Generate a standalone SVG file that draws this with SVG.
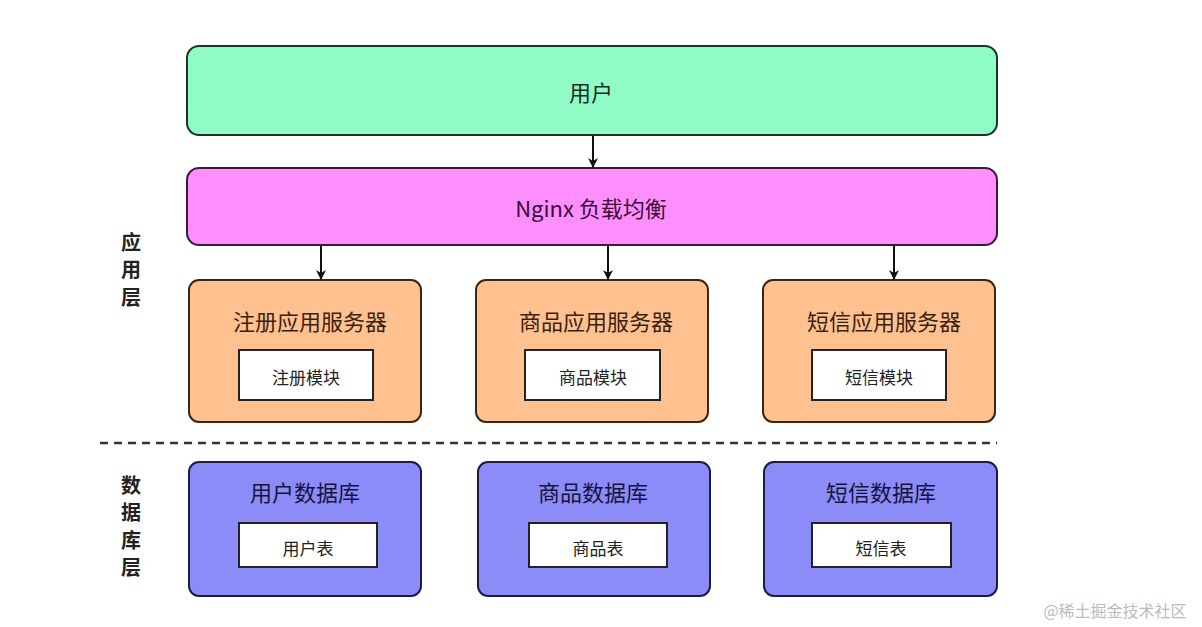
<svg xmlns="http://www.w3.org/2000/svg" width="1202" height="627" viewBox="0 0 1202 627">
<defs>
<marker id="arr" markerWidth="10" markerHeight="10" refX="9" refY="5" orient="auto" markerUnits="userSpaceOnUse">
<path d="M0,0 L10,5 L0,10 L3,5 Z" fill="#111"/>
</marker>
<style>
text{font-family:"Noto Sans CJK SC","Noto Sans",sans-serif;text-anchor:middle;dominant-baseline:central}
.user{fill:#8ffcc6;stroke:#1d3328;stroke-width:2}
.ngx{fill:#ff8ffe;stroke:#3a1a3a;stroke-width:2}
.app{fill:#ffc18f;stroke:#3a2614;stroke-width:2}
.db{fill:#8c8cf9;stroke:#1c1c44;stroke-width:2}
.inner{fill:#fff;stroke:#222;stroke-width:2}
.t20{font-size:22px}
.t16{font-size:17px;fill:#222}
.side{font-size:20px;font-weight:bold;fill:#222}
.conn{stroke:#111;stroke-width:2;fill:none}
</style>
</defs>
<rect width="1202" height="627" fill="#fff"/>

<g id="side-labels">
<text class="side" x="131" y="241">应</text>
<text class="side" x="131" y="268">用</text>
<text class="side" x="131" y="296">层</text>
<text class="side" x="131" y="484">数</text>
<text class="side" x="131" y="511">据</text>
<text class="side" x="131" y="539">库</text>
<text class="side" x="131" y="566">层</text>
</g>

<g id="user">
<rect class="user" x="187" y="46" width="810" height="89" rx="12"/>
<text class="t20" x="591" y="91" fill="#1d2a22">用户</text>
</g>

<g id="nginx">
<rect class="ngx" x="187" y="168" width="810" height="77" rx="12"/>
<text class="t20" x="591" y="207" fill="#3a0c3a">Nginx 负载均衡</text>
</g>

<g id="app-register">
<rect class="app" x="189" y="280" width="232" height="142" rx="10"/>
<text class="t20" x="310" y="320" fill="#3a1f0c">注册应用服务器</text>
<rect class="inner" x="239" y="350" width="134" height="50"/>
<text class="t16" x="306" y="376">注册模块</text>
</g>

<g id="app-goods">
<rect class="app" x="476" y="280" width="232" height="142" rx="10"/>
<text class="t20" x="596" y="320" fill="#3a1f0c">商品应用服务器</text>
<rect class="inner" x="525" y="350" width="135" height="50"/>
<text class="t16" x="593" y="376">商品模块</text>
</g>

<g id="app-sms">
<rect class="app" x="763" y="280" width="232" height="142" rx="10"/>
<text class="t20" x="884" y="320" fill="#3a1f0c">短信应用服务器</text>
<rect class="inner" x="812" y="350" width="134" height="50"/>
<text class="t16" x="879" y="376">短信模块</text>
</g>

<g id="divider">
<line x1="100" y1="443" x2="997" y2="443" stroke="#333" stroke-width="2.5" stroke-dasharray="8,6"/>
</g>

<g id="db-user">
<rect class="db" x="189" y="462" width="232" height="134" rx="10"/>
<text class="t20" x="305" y="491" fill="#14143c">用户数据库</text>
<rect class="inner" x="239" y="523" width="138" height="44"/>
<text class="t16" x="308" y="547">用户表</text>
</g>

<g id="db-goods">
<rect class="db" x="478" y="462" width="232" height="134" rx="10"/>
<text class="t20" x="593" y="491" fill="#14143c">商品数据库</text>
<rect class="inner" x="529" y="523" width="138" height="44"/>
<text class="t16" x="598" y="547">商品表</text>
</g>

<g id="db-sms">
<rect class="db" x="764" y="462" width="233" height="134" rx="10"/>
<text class="t20" x="881" y="491" fill="#14143c">短信数据库</text>
<rect class="inner" x="812" y="523" width="139" height="44"/>
<text class="t16" x="881" y="547">短信表</text>
</g>

<g id="connectors">
<line class="conn" x1="593" y1="136" x2="593" y2="167" marker-end="url(#arr)"/>
<line class="conn" x1="321" y1="246" x2="321" y2="279" marker-end="url(#arr)"/>
<line class="conn" x1="608" y1="246" x2="608" y2="279" marker-end="url(#arr)"/>
<line class="conn" x1="894" y1="246" x2="894" y2="279" marker-end="url(#arr)"/>
</g>

<g id="watermark">
<text x="1115" y="610" font-size="16" fill="#bbb">@稀土掘金技术社区</text>
</g>
</svg>
